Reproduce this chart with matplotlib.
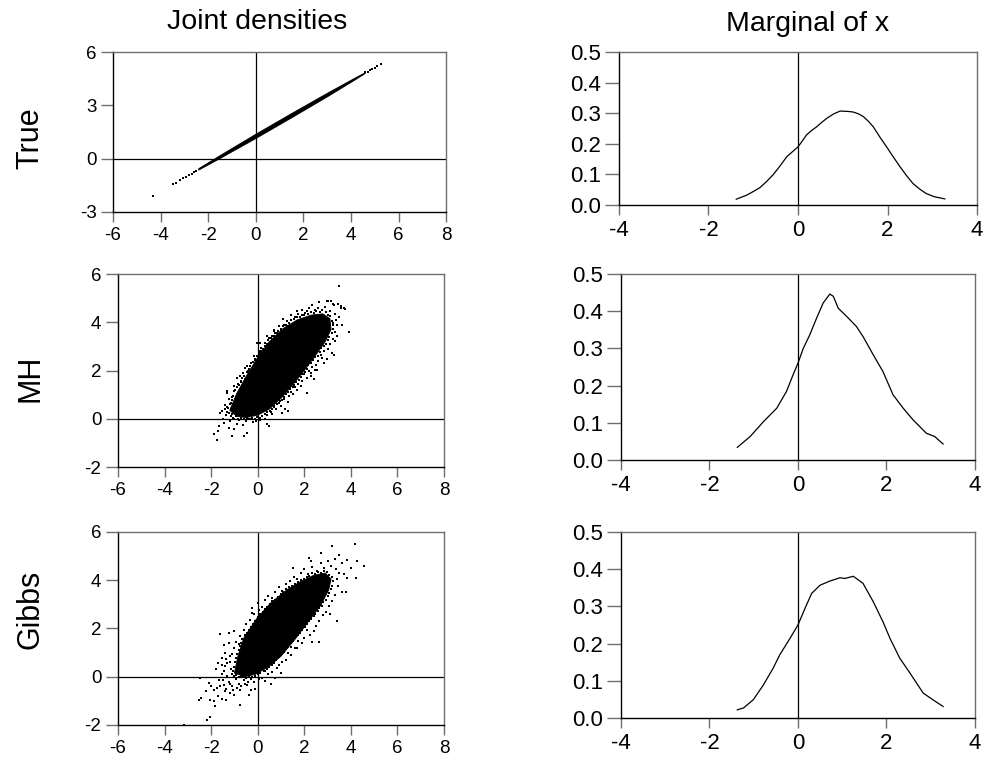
import numpy as np
import matplotlib
matplotlib.use("Agg")
import matplotlib.pyplot as plt

plt.rcParams['font.family'] = ['Liberation Sans', 'DejaVu Sans']
plt.rcParams['axes.unicode_minus'] = False

# ---- joint samples: dense core outlines + scattered points ----
true_core_x = [-2.4, -1.5, 0.0, 1.5, 3.0, 4.2, 4.6, 4.6, 4.2, 3.0, 1.5, 0.0, -1.5, -2.4]
true_core_y = [-0.565, 0.17, 1.37, 2.53, 3.67, 4.55, 4.83, 4.79, 4.45, 3.47, 2.29, 1.13, 0.01, -0.645]
true_pts_x = [-4.32, -3.48, -3.35, -3.2, -3.05, -2.92, -2.8, -2.7, -2.6, -2.5,
              4.45, 4.6, 4.7, 4.8, 4.9, 5.0, 5.1, 5.28]
true_pts_y = [-2.1, -1.44, -1.35, -1.22, -1.1, -1.02, -0.93, -0.84, -0.76, -0.69,
              4.7, 4.85, 4.89, 4.97, 5.04, 5.12, 5.2, 5.34]

# MH: outline of the solid region
mh_core_x = [-1.2, -0.9, -0.5, 0.0, 0.5, 1.1, 1.7, 2.3, 2.8, 3.1, 3.15, 2.9, 2.5, 2.0,
             1.5, 1.0, 0.5, 0.0, -0.5, -0.9]
mh_core_y = [0.35, 1.05, 1.75, 2.55, 3.2, 3.75, 4.1, 4.3, 4.35, 4.15, 3.7, 3.2, 2.65, 2.0,
             1.4, 0.85, 0.4, 0.15, 0.05, 0.1]
mh_pts = [
    (3.48, 5.49), (3.91, 3.59), (3.7, 4.59), (3.56, 4.66), (2.62, 4.83), (2.98, 4.87),
    (3.24, 4.77), (1.41, 4.32), (0.98, 3.7), (0.72, 3.63), (0.47, 3.35), (0.09, 3.14),
    (0.04, 2.8), (-0.17, 2.59), (-0.46, 2.18), (-0.75, 1.77), (-1.03, 1.35), (-1.32, 1.08),
    (-1.39, 0.59), (-1.53, 0.32), (-1.46, -0.17), (-1.86, -0.65), (-1.1, -0.72), (-0.6, -0.72),
    (-0.46, -0.58), (0.47, -0.3), (-0.06, -0.1), (-1.03, -0.44), (-1.25, -0.37), (1.05, 0.25),
    (1.29, 0.32), (0.62, 0.18), (2.12, 1.08), (1.84, 1.35), (2.41, 1.63), (2.55, 2.04),
    (2.84, 2.32), (2.98, 2.46), (3.2, 2.73), (3.34, 3.21), (3.41, 3.42), (2.7, 2.66),
    (2.27, 1.9), (1.19, 0.39), (-1.6, 0.25), (-1.32, 1.14), (-0.89, 1.7), (-0.53, 2.11),
    (-0.03, 3.14), (0.4, 3.45), (0.69, 3.66), (1.09, 4.14), (1.43, 4.32), (1.89, 4.5),
    (2.34, 4.73), (3.01, 4.87), (3.27, 4.73), (3.58, 4.59), (3.76, 4.55), (3.27, 2.66),
    (2.48, 2.04), (2.27, 1.77), (1.52, 1.01), (-1.75, -0.9), (0.4, -0.23),
    (-1.3, 0.5), (-1.25, 0.8), (-1.1, 0.9), (-1.15, 0.65), (-1.0, 1.15), (-0.85, 1.45),
    (-0.7, 1.55), (-0.65, 1.9), (-0.55, 1.65), (-0.4, 2.0), (-0.3, 2.3), (-0.2, 2.1),
    (-0.1, 2.45), (0.05, 2.65), (0.15, 2.95), (0.25, 2.85), (0.3, 3.15), (0.55, 3.1),
    (0.6, 3.45), (0.85, 3.55), (0.9, 3.85), (1.15, 3.9), (1.25, 4.05), (1.3, 3.85),
    (1.6, 4.2), (1.75, 4.35), (2.0, 4.3), (2.1, 4.45), (2.45, 4.5), (2.6, 4.6),
    (2.75, 4.5), (2.9, 4.65), (3.1, 4.45), (3.3, 4.35), (3.35, 4.1), (3.4, 3.9),
    (3.25, 3.95), (3.5, 4.2), (3.45, 4.75), (3.15, 4.9), (2.2, 4.6), (1.7, 4.45),
    (3.3, 3.6), (3.25, 3.3), (3.1, 3.1), (3.0, 2.9), (2.85, 2.8), (2.75, 2.5),
    (2.6, 2.4), (2.5, 2.25), (2.35, 2.15), (2.2, 2.0), (2.1, 1.7), (2.0, 1.85),
    (1.9, 1.55), (1.75, 1.45), (1.7, 1.2), (1.6, 1.3), (1.45, 1.1), (1.35, 0.95),
    (1.3, 0.7), (1.15, 0.8), (1.0, 0.55), (0.9, 0.65), (0.8, 0.4), (0.7, 0.5),
    (0.55, 0.3), (0.4, 0.15), (0.3, 0.0), (0.2, 0.1), (0.1, -0.05), (-0.2, -0.15),
    (-0.3, 0.0), (-0.5, -0.1), (-0.65, -0.25), (-0.8, -0.05), (-0.9, -0.2), (-1.0, 0.0),
    (-1.15, 0.1), (-1.2, -0.1), (-1.35, 0.15), (-1.4, 0.4), (-1.5, 0.0), (-1.65, -0.3),
    (-1.7, -0.5), (3.6, 3.9),
    # speckled rim of the dense region
    (-1.28, 0.45), (-1.18, 0.6), (-1.12, 0.78), (-1.05, 0.95), (-0.98, 1.2), (-0.88, 1.3),
    (-0.82, 1.42), (-0.72, 1.52), (-0.66, 1.68), (-0.58, 1.78), (-0.48, 1.95), (-0.38, 2.05),
    (-0.32, 2.2), (-0.22, 2.35), (-0.12, 2.48), (-0.05, 2.62), (0.08, 2.72), (0.14, 2.82),
    (0.22, 2.9), (0.32, 3.02), (0.38, 3.12), (0.46, 3.28), (0.58, 3.35), (0.68, 3.42),
    (0.76, 3.55), (0.88, 3.62), (0.98, 3.74), (1.08, 3.86), (1.2, 3.9), (1.35, 3.98),
    (1.45, 4.08), (1.58, 4.14), (1.68, 4.22), (1.82, 4.2), (1.92, 4.3), (2.05, 4.38),
    (2.18, 4.36), (2.28, 4.42), (2.4, 4.4), (2.52, 4.48), (2.66, 4.44), (2.78, 4.5),
    (2.92, 4.42), (3.02, 4.32), (3.12, 4.25), (3.2, 4.05), (3.22, 3.88), (3.24, 3.72),
    (3.18, 3.55), (3.08, 3.4), (3.02, 3.28), (2.95, 3.12), (2.85, 3.0), (2.72, 2.92),
    (2.66, 2.78), (2.58, 2.62), (2.45, 2.55), (2.38, 2.42), (2.3, 2.3), (2.18, 2.22),
    (2.1, 2.08), (2.02, 1.95), (1.92, 1.85), (1.85, 1.72), (1.78, 1.62), (1.66, 1.52),
    (1.58, 1.42), (1.5, 1.3), (1.4, 1.22), (1.32, 1.1), (1.22, 1.02), (1.12, 0.9),
    (1.05, 0.78), (0.95, 0.72), (0.82, 0.6), (0.72, 0.55), (0.62, 0.42), (0.52, 0.32),
    (0.42, 0.28), (0.32, 0.18), (0.2, 0.12), (0.1, 0.05), (-0.02, 0.08), (-0.12, 0.0),
    (-0.25, 0.02), (-0.38, -0.02), (-0.48, 0.05), (-0.6, -0.02), (-0.72, 0.04), (-0.85, 0.0),
    (-0.95, 0.12), (-1.05, 0.05), (-1.12, 0.2), (-1.22, 0.25), (-1.32, 0.3),
]
mh_pts_x = [p[0] for p in mh_pts]
mh_pts_y = [p[1] for p in mh_pts]

# Gibbs
gibbs_core_x = [-1.0, -0.85, -0.6, -0.05, 0.55, 1.25, 1.85, 2.4, 2.9, 3.15, 3.05, 2.7,
                2.15, 1.6, 1.0, 0.45, -0.1, -0.55]
gibbs_core_y = [0.15, 0.85, 1.6, 2.4, 3.05, 3.6, 3.95, 4.2, 4.3, 4.05, 3.6, 2.95,
                2.25, 1.55, 0.85, 0.4, 0.1, 0.0]
gibbs_pts = [
    (4.17, 5.49), (3.18, 5.43), (2.7, 5.14), (2.19, 4.94), (2.27, 4.8), (1.51, 4.5),
    (3.5, 5.05), (3.84, 4.84), (4.27, 4.8), (4.56, 4.57), (3.99, 4.5), (4.2, 4.08),
    (3.77, 3.53), (3.41, 2.29), (2.62, 1.46), (2.34, 1.46), (1.69, 1.19), (1.41, 0.91),
    (0.83, 0.36), (0.76, -0.06), (0.33, -0.19), (-0.24, 2.84), (-0.24, 2.63), (-1.03, 1.88),
    (-1.25, 1.81), (-1.61, 1.77), (-1.46, 1.32), (-1.53, 0.77), (-1.39, 0.43), (-2.47, -0.06),
    (-2.11, -0.26), (-1.75, -0.47), (-1.89, -0.54), (-1.39, -0.61), (-1.18, -0.68), (-0.75, -0.54),
    (-0.39, -0.74), (-2.42, -0.88), (-2.54, -0.95), (-1.89, -1.02), (-2.04, -0.95), (-1.53, -0.91),
    (-0.75, -1.16), (-1.82, -1.23), (-2.18, -1.78), (-2.04, -1.68), (-3.15, -1.99),
    (-1.15, 0.3), (-1.2, 0.6), (-1.1, 0.95), (-1.0, 1.2), (-0.95, 1.45), (-0.8, 1.35),
    (-0.75, 1.7), (-0.6, 1.95), (-0.5, 2.2), (-0.35, 2.35), (-0.3, 2.05), (-0.15, 2.6),
    (0.05, 2.75), (0.0, 3.05), (0.2, 2.9), (0.3, 3.2), (0.45, 3.35), (0.6, 3.25),
    (0.75, 3.5), (0.9, 3.7), (1.05, 3.55), (1.2, 3.85), (1.4, 3.95), (1.55, 4.15),
    (1.7, 4.05), (1.85, 4.3), (2.0, 4.45), (2.15, 4.25), (2.35, 4.55), (2.55, 4.4),
    (2.7, 4.7), (2.85, 4.5), (3.0, 4.8), (3.15, 4.6), (3.35, 4.45), (3.3, 4.9),
    (3.6, 4.7), (3.5, 4.3), (3.7, 4.25), (3.85, 4.1), (3.4, 4.05), (3.45, 3.75),
    (3.6, 3.5), (3.3, 3.4), (3.2, 3.15), (3.05, 2.95), (2.95, 2.7), (2.8, 2.55),
    (3.1, 2.6), (2.65, 2.3), (2.5, 2.1), (2.4, 1.9), (2.25, 1.75), (2.1, 1.95),
    (2.0, 1.6), (1.9, 1.4), (1.75, 1.5), (1.6, 1.2), (1.45, 1.25), (1.3, 1.0),
    (1.2, 0.7), (1.05, 0.6), (0.9, 0.5), (0.7, 0.55), (0.6, 0.2), (0.45, 0.1),
    (0.3, 0.25), (0.2, -0.05), (0.05, -0.1), (-0.15, -0.2), (-0.3, -0.1), (-0.45, -0.35),
    (-0.6, -0.15), (-0.8, -0.3), (-0.95, -0.1), (-1.1, -0.4), (-1.25, -0.2), (-1.3, 0.05),
    (-1.45, -0.35), (-1.55, 0.1), (-1.65, -0.15), (-1.7, -0.8), (-1.35, -0.95), (-1.0, -0.75),
    (-2.2, -0.6), (-2.0, -0.4), (-1.8, 0.3), (-1.7, 0.55), (-1.4, 1.0), (-1.25, 1.4),
    (0.55, -0.3), (1.0, 0.15), (-0.1, -0.5), (-0.3, -0.55),
    (-1.35, -0.5), (-1.2, -0.3), (-1.05, -0.55), (-0.9, -0.45), (-0.7, -0.4), (-0.55, -0.3),
    (-0.4, -0.2), (-1.5, -0.15), (-1.6, -0.4), (-1.45, 0.25), (-1.3, 0.55), (-1.2, 0.85),
    (-1.35, 0.75), (-1.55, 0.5),
    # speckled rim of the dense region
    (-1.08, 0.25), (-1.02, 0.42), (-0.98, 0.6), (-0.92, 0.78), (-0.9, 0.95), (-0.82, 1.1),
    (-0.78, 1.28), (-0.72, 1.4), (-0.66, 1.55), (-0.55, 1.72), (-0.48, 1.82), (-0.38, 1.95),
    (-0.28, 2.08), (-0.2, 2.2), (-0.1, 2.32), (0.02, 2.48), (0.12, 2.58), (0.22, 2.7),
    (0.32, 2.8), (0.42, 2.9), (0.52, 3.0), (0.62, 3.12), (0.75, 3.2), (0.88, 3.3),
    (0.98, 3.42), (1.1, 3.5), (1.22, 3.62), (1.35, 3.7), (1.48, 3.75), (1.6, 3.85),
    (1.72, 3.92), (1.85, 4.02), (1.98, 4.05), (2.1, 4.15), (2.22, 4.18), (2.35, 4.28),
    (2.48, 4.25), (2.6, 4.35), (2.72, 4.32), (2.85, 4.4), (2.98, 4.35), (3.08, 4.22),
    (3.18, 4.12), (3.22, 3.95), (3.2, 3.78), (3.15, 3.62), (3.08, 3.48), (3.0, 3.35),
    (2.92, 3.2), (2.82, 3.08), (2.75, 2.95), (2.65, 2.85), (2.58, 2.72), (2.48, 2.62),
    (2.4, 2.5), (2.3, 2.4), (2.22, 2.3), (2.1, 2.18), (2.02, 2.05), (1.92, 1.95),
    (1.82, 1.82), (1.72, 1.72), (1.62, 1.6), (1.52, 1.48), (1.42, 1.38), (1.32, 1.25),
    (1.22, 1.15), (1.12, 1.02), (1.0, 0.92), (0.9, 0.8), (0.8, 0.7), (0.7, 0.6),
    (0.6, 0.5), (0.5, 0.42), (0.38, 0.32), (0.25, 0.22), (0.12, 0.15), (0.0, 0.1),
    (-0.12, 0.02), (-0.25, -0.02), (-0.38, 0.02), (-0.5, -0.05), (-0.62, 0.0), (-0.72, 0.05),
    (-0.82, -0.02), (-0.92, 0.08), (-1.0, 0.02), (-1.1, 0.12),
]
gibbs_pts_x = [p[0] for p in gibbs_pts]
gibbs_pts_y = [p[1] for p in gibbs_pts]

# ---- marginal density curves of x ----
true_mx = [-1.38, -1.15, -1.0, -0.85, -0.7, -0.55, -0.4, -0.25, 0.0, 0.1, 0.19, 0.3, 0.42,
           0.53, 0.64, 0.8, 0.94, 1.1, 1.23, 1.35, 1.46, 1.57, 1.68, 1.83, 1.98, 2.13, 2.28,
           2.42, 2.57, 2.72, 2.87, 3.05, 3.28]
true_my = [0.019, 0.032, 0.044, 0.057, 0.077, 0.10, 0.128, 0.158, 0.19, 0.21, 0.229, 0.243,
           0.256, 0.27, 0.283, 0.298, 0.307, 0.306, 0.304, 0.298, 0.289, 0.274, 0.256, 0.222,
           0.19, 0.157, 0.125, 0.097, 0.07, 0.052, 0.037, 0.027, 0.02]
mh_mx = [-1.37, -1.08, -0.78, -0.48, -0.26, -0.11, 0.0, 0.12, 0.27, 0.42, 0.57, 0.72, 0.8,
         0.91, 1.1, 1.32, 1.47, 1.7, 1.92, 2.15, 2.38, 2.6, 2.9, 3.09, 3.28]
mh_my = [0.034, 0.063, 0.103, 0.139, 0.184, 0.229, 0.26, 0.30, 0.337, 0.381, 0.422, 0.446, 0.44,
         0.408, 0.386, 0.359, 0.332, 0.283, 0.238, 0.175, 0.139, 0.108, 0.072, 0.063, 0.043]
gibbs_mx = [-1.37, -1.23, -1.01, -0.78, -0.56, -0.41, -0.18, 0.0, 0.16, 0.31, 0.5, 0.72, 0.95,
            1.06, 1.25, 1.47, 1.7, 1.92, 2.08, 2.3, 2.53, 2.83, 3.05, 3.28]
gibbs_my = [0.022, 0.027, 0.049, 0.089, 0.134, 0.17, 0.214, 0.25, 0.295, 0.335, 0.357, 0.368, 0.377,
            0.375, 0.381, 0.362, 0.313, 0.259, 0.214, 0.161, 0.121, 0.067, 0.049, 0.031]

row_names = ['True', 'MH', 'Gibbs']
joint_ylims = [(-3, 6), (-2, 6), (-2, 6)]
joint_yticks = [[-3, 0, 3, 6], [-2, 0, 2, 4, 6], [-2, 0, 2, 4, 6]]
joint_xticks = [-6, -4, -2, 0, 2, 4, 6, 8]
marg_xticks = [-4, -2, 0, 2, 4]
marg_yticks = [0.0, 0.1, 0.2, 0.3, 0.4, 0.5]

fig = plt.figure(figsize=(9.83, 7.67), dpi=100)

left_pos = [[0.115, 0.7236, 0.3388, 0.2086],
            [0.120, 0.3911, 0.3317, 0.2516],
            [0.120, 0.0548, 0.3317, 0.2516]]
right_pos = [[0.6297, 0.7327, 0.3642, 0.1995],
             [0.6317, 0.4003, 0.3601, 0.2425],
             [0.6317, 0.0639, 0.3601, 0.2425]]


def style(ax, fs, ylen):
    for s in ['top', 'right']:
        ax.spines[s].set_color('#6e6e6e')
    for s in ['left', 'bottom']:
        ax.spines[s].set_color('black')
    for s in ax.spines.values():
        s.set_linewidth(1.0)
    ax.tick_params(axis='x', direction='out', length=7, width=1, color='#6e6e6e',
                   labelsize=fs, pad=4)
    ax.tick_params(axis='y', direction='out', length=ylen, width=1, color='#6e6e6e',
                   labelsize=fs, pad=3)


cores = [(true_core_x, true_core_y), (mh_core_x, mh_core_y), (gibbs_core_x, gibbs_core_y)]
pts = [(true_pts_x, true_pts_y), (mh_pts_x, mh_pts_y), (gibbs_pts_x, gibbs_pts_y)]
margs = [(true_mx, true_my), (mh_mx, mh_my), (gibbs_mx, gibbs_my)]

for i in range(3):
    ax = fig.add_axes(left_pos[i])
    ax.axhline(0, color='black', lw=0.9, zorder=1)
    ax.axvline(0, color='black', lw=0.9, zorder=1)
    ax.fill(cores[i][0], cores[i][1], color='black', lw=0.6, zorder=2)
    ax.plot(pts[i][0], pts[i][1], 's', color='black', ms=1.7, mew=0, zorder=3)
    ax.set_xlim(-6, 8)
    ax.set_ylim(*joint_ylims[i])
    ax.set_xticks(joint_xticks)
    ax.set_yticks(joint_yticks[i])
    style(ax, 13.5, 9)

    ax2 = fig.add_axes(right_pos[i])
    ax2.axvline(0, color='black', lw=0.9)
    ax2.plot(margs[i][0], margs[i][1], color='black', lw=0.9)
    ax2.set_xlim(-4, 4)
    ax2.set_ylim(0, 0.5)
    ax2.set_xticks(marg_xticks)
    ax2.set_yticks(marg_yticks)
    ax2.set_yticklabels(['%.1f' % v for v in marg_yticks])
    style(ax2, 16, 10)

fig.text(0.2615, 0.971, 'Joint densities', ha='center', va='center', fontsize=20.5)
fig.text(0.8217, 0.969, 'Marginal of x', ha='center', va='center', fontsize=20.5)
for name, yc in zip(row_names, [0.82, 0.507, 0.205]):
    fig.text(0.031, yc, name, rotation=90, ha='center', va='center', fontsize=22)

fig.savefig('out.png', dpi=100)
